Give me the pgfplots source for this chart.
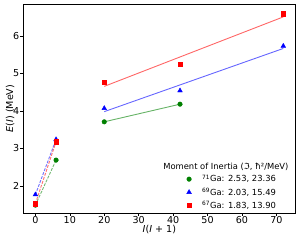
\documentclass[border=0pt]{standalone}
\usepackage{fontspec}
\setmainfont{DejaVu Sans}
\usepackage{pgfplots}
\pgfplotsset{compat=1.18}
\definecolor{mgreen}{HTML}{008000}
\definecolor{mblue}{HTML}{0000FF}
\definecolor{mred}{HTML}{FF0000}
\begin{document}
\begin{tikzpicture}
\useasboundingbox (-23bp,-27bp) rectangle (277bp,213bp);
\begin{axis}[
  at={(0,0)}, anchor=south west,
  scale only axis, width=272.7bp, height=209bp,
  xmin=-3.6, xmax=75.6, ymin=1.28, ymax=6.85,
  tick pos=left, tick align=outside,
  major tick length=2.7bp,
  tick style={black, line width=0.6bp},
  axis line style={line width=0.6bp},
  xtick={0,10,...,70}, ytick={2,3,4,5,6},
  tick label style={font=\fontsize{9.6}{11}\selectfont, inner sep=0pt},
  xticklabel style={yshift=-1bp},
  yticklabel style={xshift=-1bp},
  /pgf/number format/assume math mode=true,
  xlabel={\textit{I}(\textit{I} + 1)},
  ylabel={\textit{E}(\textit{I}) (MeV)},
  label style={font=\fontsize{9.6}{11}\selectfont},
  xlabel style={at={(axis description cs:0.5,-0.079)}, anchor=center},
  ylabel style={at={(axis description cs:-0.047,0.5)}, anchor=center},
  legend cell align=left,
  legend style={draw=none, fill=none, at={(axis description cs:0.579,0.193)}, anchor=north west,
    font=\fontsize{8.4}{10}\selectfont, row sep=0.5bp, inner sep=0pt},
  legend image code/.code={\path[draw=none,fill=none] (0bp,0bp) -- (19bp,0bp); \draw[#1] plot coordinates {(8bp,0bp)};},
]
% fitted lines
\addplot[forget plot, mgreen, opacity=0.55, line width=0.9bp, dash pattern=on 2.9bp off 1.3bp] coordinates {(0,1.49) (6,2.69)};
\addplot[forget plot, mblue, opacity=0.55, line width=0.9bp, dash pattern=on 2.9bp off 1.3bp] coordinates {(0,1.77) (6,3.24)};
\addplot[forget plot, mred, opacity=0.55, line width=0.9bp, dash pattern=on 2.9bp off 1.3bp] coordinates {(0,1.53) (6,3.18)};
\addplot[forget plot, mgreen, opacity=0.6, line width=0.9bp] coordinates {(20,3.71) (42,4.18)};
\addplot[forget plot, mblue, opacity=0.6, line width=0.9bp] coordinates {(20,3.981) (72,5.665)};
\addplot[forget plot, mred, opacity=0.6, line width=0.9bp] coordinates {(20,4.655) (72,6.506)};
% data points
\addplot[only marks, mark=*, mark size=2.3bp, draw=mgreen, fill=mgreen] coordinates {(0,1.49) (6,2.69) (20,3.71) (42,4.18)};
\addlegendentry{\textsuperscript{71}Ga: 2.53, 23.36}
\addplot[only marks, mark=triangle*, mark size=2.7bp, draw=mblue, fill=mblue] coordinates {(0,1.77) (6,3.24) (20,4.07) (42,4.54) (72,5.73)};
\addlegendentry{\textsuperscript{69}Ga: 2.03, 15.49}
\addplot[only marks, mark=square*, mark size=2.1bp, draw=mred, fill=mred] coordinates {(0,1.53) (6,3.18) (20,4.77) (42,5.24) (72,6.59)};
\addlegendentry{\textsuperscript{67}Ga: 1.83, 13.90}
\node[font=\fontsize{8.4}{10}\selectfont, anchor=center] at (axis description cs:0.744,0.222) {Moment of Inertia (ℑ, ħ²/MeV)};
\end{axis}
\end{tikzpicture}
\end{document}
